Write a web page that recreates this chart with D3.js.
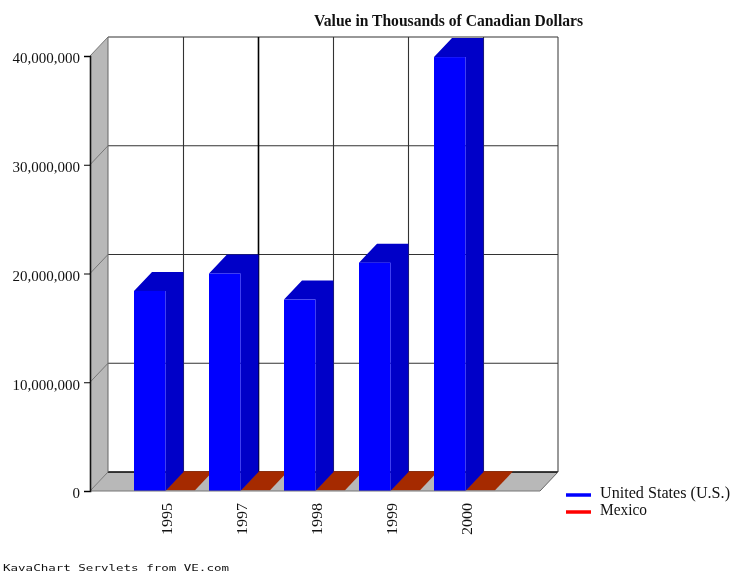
<!DOCTYPE html>
<html>
<head>
<meta charset="utf-8">
<script src="https://cdn.jsdelivr.net/npm/d3@7"></script>
<style>
  html, body { margin: 0; padding: 0; background: #fff; }
  svg { display: block; filter: blur(0.6px); }
  text { fill: #111; font-family: "Liberation Serif", serif; }
</style>
</head>
<body>
<div id="container"></div>
<script>
/* DATA */
const years = ["1995", "1997", "1998", "1999", "2000"];
const seriesNames = ["United States (U.S.)", "Mexico"];
const usValues = [18400000, 20000000, 17600000, 21000000, 39900000];
const mexicoValues = [60000, 60000, 60000, 60000, 60000];
const yTicks = [0, 10000000, 20000000, 30000000, 40000000];

/* CONSTANTS */
const width = 731, height = 574;
const depthX = 18, depthY = -19;
const colors = { us: "#0000ff", usSide: "#0000c8", mex: "#ff0000", mexTop: "#a52a00", wall: "#b8b8b8" };

const svg = d3.select("#container")
  .append("svg")
  .attr("width", width)
  .attr("height", height);

// SCALES
const y = d3.scaleLinear().domain([0, 40000000]).range([491, 56]);
const x = d3.scaleBand().domain(years).range([134, 497]).paddingInner(12 / 75);
const x1 = d3.scaleBand().domain(seriesNames).range([0, x.bandwidth()]);
const left = 90, right = 540;
const poly = pts => pts.map(p => p.join(",")).join(" ");

// walls
svg.append("polygon")
  .attr("points", poly([[left, y(0)], [left + depthX, y(0) + depthY], [left + depthX, y(40000000) + depthY], [left, y(40000000)]]))
  .attr("fill", colors.wall);
svg.append("polygon")
  .attr("points", poly([[left, y(0)], [left + depthX, y(0) + depthY], [right + depthX, y(0) + depthY], [right, y(0)]]))
  .attr("fill", colors.wall);

// back gridlines
svg.selectAll("line.hgrid")
  .data(yTicks)
  .join("line")
  .attr("class", "hgrid")
  .attr("x1", left + depthX)
  .attr("x2", right + depthX)
  .attr("y1", d => y(d) + depthY)
  .attr("y2", d => y(d) + depthY)
  .attr("stroke", d => d === 0 ? "#000" : "#333")
  .attr("stroke-width", d => d === 0 ? 1.6 : 1.1);

// diagonals on the left wall
svg.selectAll("line.diag")
  .data(yTicks)
  .join("line")
  .attr("class", "diag")
  .attr("x1", left)
  .attr("x2", left + depthX)
  .attr("y1", d => y(d))
  .attr("y2", d => y(d) + depthY)
  .attr("stroke", "#777");

svg.selectAll("line.vgrid")
  .data(years)
  .join("line")
  .attr("class", "vgrid")
  .attr("x1", d => x(d) + x1.bandwidth() + depthX)
  .attr("x2", d => x(d) + x1.bandwidth() + depthX)
  .attr("y1", y(40000000) + depthY)
  .attr("y2", y(0) + depthY)
  .attr("stroke", d => d === "1997" ? "#000" : "#333")
  .attr("stroke-width", d => d === "1997" ? 1.6 : 1.1);

svg.append("line")
  .attr("x1", left + depthX).attr("x2", left + depthX)
  .attr("y1", y(40000000) + depthY).attr("y2", y(0) + depthY)
  .attr("stroke", "#666");
svg.append("line")
  .attr("x1", right + depthX).attr("x2", right + depthX)
  .attr("y1", y(40000000) + depthY).attr("y2", y(0) + depthY)
  .attr("stroke", "#333");
svg.append("line")
  .attr("x1", right).attr("x2", right + depthX)
  .attr("y1", y(0)).attr("y2", y(0) + depthY)
  .attr("stroke", "#666");

// Mexico bars, almost flat so only the top shows
const mexX = (d, i) => x(years[i]) + x1(seriesNames[1]);
svg.selectAll("polygon.mex-top")
  .data(mexicoValues)
  .join("polygon")
  .attr("class", "mex-top")
  .attr("fill", colors.mexTop)
  .attr("points", (d, i) => {
    const x0 = mexX(d, i), w = x1.bandwidth() - 2, t = y(d);
    return poly([[x0, t], [x0 + depthX, t + depthY], [x0 + w + depthX, t + depthY], [x0 + w, t]]);
  });

// US bars
const bars = svg.selectAll("g.us")
  .data(usValues)
  .join("g")
  .attr("class", "us");
bars.append("polygon")
  .attr("fill", colors.usSide)
  .attr("points", (d, i) => {
    const x0 = x(years[i]), w = x1.bandwidth(), t = y(d);
    return poly([
      [x0, t], [x0 + depthX, t + depthY], [x0 + w + depthX, t + depthY],
      [x0 + w + depthX, y(0) + depthY], [x0 + w, y(0)], [x0 + w, t]
    ]);
  });
bars.append("rect")
  .attr("fill", colors.us)
  .attr("x", (d, i) => x(years[i]))
  .attr("y", d => y(d))
  .attr("width", x1.bandwidth())
  .attr("height", d => y(0) - y(d));

// front floor edge and y axis
svg.append("line")
  .attr("x1", left).attr("x2", right)
  .attr("y1", y(0)).attr("y2", y(0))
  .attr("stroke", "#777");
const yAxis = d3.axisLeft(y)
  .tickValues(yTicks)
  .tickSize(6)
  .tickPadding(4)
  .tickFormat(d3.format(","));
svg.append("g")
  .attr("transform", `translate(${left},0)`)
  .call(yAxis)
  .call(g => g.select(".domain").attr("stroke", "#111").attr("stroke-width", 1.6))
  .call(g => g.selectAll("text")
    .attr("font-size", 15)
    .attr("font-family", "Liberation Serif")
    .attr("dy", "0.45em"));

// category labels
svg.selectAll("text.year")
  .data(years)
  .join("text")
  .attr("class", "year")
  .attr("transform", d => `translate(${x(d) + x1.bandwidth() + 6},535) rotate(-90)`)
  .attr("font-size", 15)
  .attr("textLength", 32)
  .attr("lengthAdjust", "spacingAndGlyphs")
  .text(d => d);

// title
svg.append("text")
  .attr("x", 314)
  .attr("y", 26)
  .attr("font-size", 16)
  .attr("font-weight", "bold")
  .attr("textLength", 269)
  .attr("lengthAdjust", "spacingAndGlyphs")
  .text("Value in Thousands of Canadian Dollars");

// legend
const legend = svg.selectAll("g.legend")
  .data(seriesNames)
  .join("g")
  .attr("class", "legend");
legend.append("line")
  .attr("x1", 566)
  .attr("x2", 591)
  .attr("y1", (d, i) => 495 + i * 17)
  .attr("y2", (d, i) => 495 + i * 17)
  .attr("stroke", (d, i) => i === 0 ? colors.us : colors.mex)
  .attr("stroke-width", 3.5);
legend.append("text")
  .attr("x", 600)
  .attr("y", (d, i) => 498 + i * 17)
  .attr("font-size", 16)
  .attr("textLength", (d, i) => i === 0 ? 130 : 47)
  .attr("lengthAdjust", "spacingAndGlyphs")
  .text(d => d);

// footer
svg.append("text")
  .attr("x", 3)
  .attr("y", 571)
  .attr("font-size", 9)
  .style("font-family", "'DejaVu Sans Mono', monospace")
  .attr("textLength", 226)
  .attr("lengthAdjust", "spacingAndGlyphs")
  .text("KavaChart Servlets from VE.com");
</script>
</body>
</html>
